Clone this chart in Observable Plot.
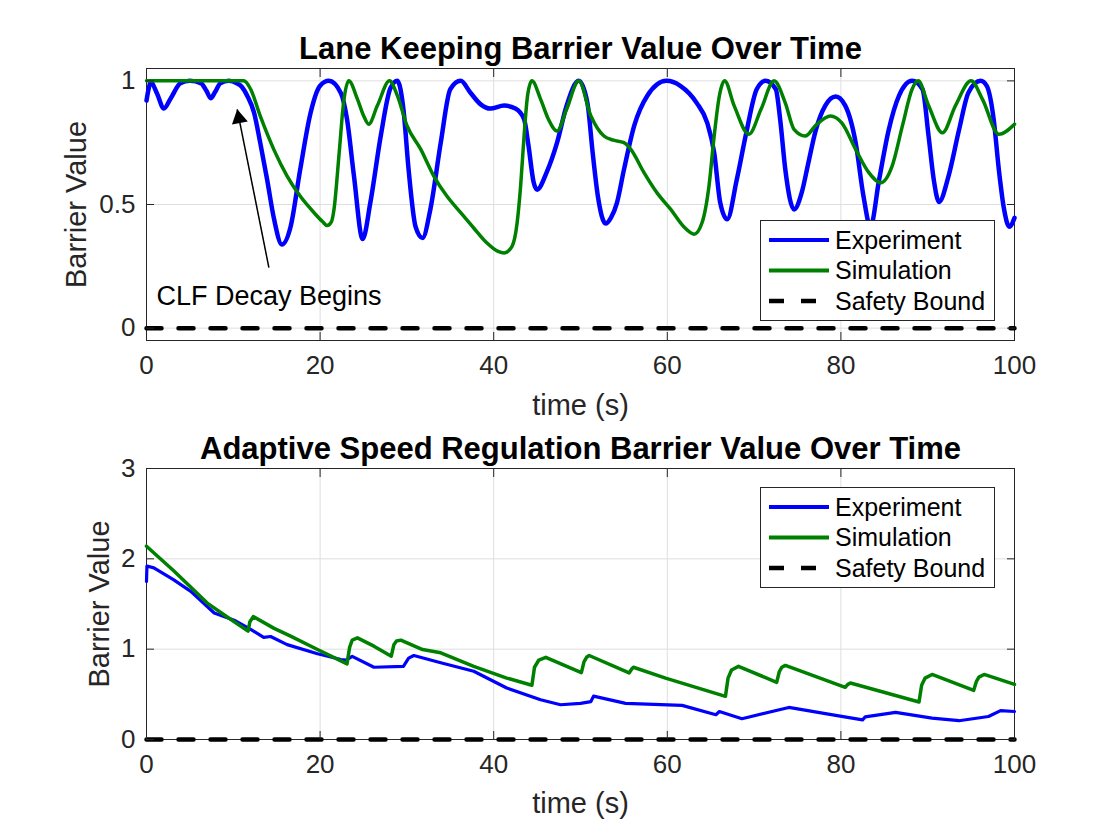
<!DOCTYPE html>
<html><head><meta charset="utf-8">
<script src="https://cdn.jsdelivr.net/npm/d3@7"></script>
<script src="https://cdn.jsdelivr.net/npm/@observablehq/plot@0.6"></script>
<style>
body{margin:0;background:#fff;}
#wrap{position:relative;width:1120px;height:840px;font-family:"Liberation Sans",Arial,Helvetica,sans-serif;}
#wrap svg.plot{position:absolute;left:0;}
.legend{position:absolute;background:#fff;border:1px solid #262626;box-sizing:border-box;}
</style></head><body><div id="wrap"></div>
<script>
// ---------- data ----------
const xTicks = [0, 20, 40, 60, 80, 100];
const laneYTicks = [0, 0.5, 1];
const speedYTicks = [0, 1, 2, 3];
const seriesNames = ["Experiment", "Simulation", "Safety Bound"];

// Lane keeping - experiment
const laneExpT = [0,0.2,0.5,1.2,2.0,2.8,3.9,5.0,6.3,6.9,7.4,7.9,8.5,9.5,10.4,11.0,11.6,12.4,13.1,13.9,14.7,15.6,16.6,17.7,18.9,20.0,21.0,22.4,23.1,23.9,24.9,25.8,27.0,28.1,28.9,29.6,30.2,31.0,31.8,32.7,33.9,35.0,36.2,37.3,38.5,39.6,41.2,42.5,43.5,44.0,44.6,45.0,46.1,47.3,48.4,49.8,50.8,51.4,52.0,52.9,53.5,54.2,55.0,56.2,57.7,59.9,61.5,63.4,64.6,65.4,66.1,66.9,68.0,69.1,70.3,71.3,72.5,73.0,73.6,74.6,75.5,76.2,77.1,78.2,79.4,80.5,81.7,82.6,83.4,84.4,85.5,86.7,88.2,89.4,90.1,90.7,91.3,92.4,93.6,94.7,96.1,96.8,97.6,98.2,98.8,99.4,100];
const laneExpV = [0.92,0.96,0.995,0.95,0.888,0.93,0.99,1.0,0.99,0.96,0.93,0.955,0.99,1.0,0.99,0.975,0.94,0.87,0.75,0.60,0.44,0.338,0.41,0.64,0.87,0.98,1.0,0.95,0.845,0.615,0.36,0.51,0.78,0.97,1.0,0.885,0.64,0.41,0.365,0.48,0.75,0.966,1.0,0.953,0.905,0.888,0.90,0.888,0.845,0.74,0.59,0.56,0.63,0.75,0.90,1.0,0.91,0.71,0.534,0.423,0.446,0.507,0.64,0.82,0.94,1.0,0.98,0.91,0.83,0.71,0.507,0.44,0.60,0.79,0.966,1.0,0.966,0.845,0.64,0.48,0.55,0.66,0.80,0.90,0.937,0.90,0.75,0.534,0.41,0.60,0.80,0.94,1.0,0.966,0.777,0.60,0.51,0.615,0.80,0.953,1.0,0.98,0.845,0.64,0.48,0.41,0.446];

// Lane keeping - simulation
const laneSimT = [0,5,11.2,12.0,13.1,14.7,16.2,17.7,19.3,20.3,20.8,21.3,21.6,22.2,22.7,23.3,24.3,25.0,25.6,26.6,28.0,28.9,30.0,31.6,33.1,34.6,36.2,37.7,39.2,40.5,41.2,42.1,42.7,43.1,43.5,43.9,44.4,45.4,46.3,47.3,48.4,49.8,51.2,52.7,53.8,55.0,55.8,57.3,58.8,60.4,61.9,63.1,64.0,64.8,65.4,66.0,66.6,67.7,69.4,70.8,72.3,73.6,74.6,75.9,77.1,78.8,80.1,81.7,83.2,84.6,85.9,87.1,88.2,88.9,90.1,91.7,93.2,95.0,96.3,98.2,100];
const laneSimV = [1,1,1,0.966,0.858,0.72,0.615,0.534,0.467,0.43,0.415,0.43,0.48,0.71,0.91,1.0,0.926,0.86,0.825,0.90,1.0,0.94,0.82,0.723,0.615,0.534,0.467,0.405,0.345,0.31,0.304,0.33,0.426,0.574,0.777,0.94,1.0,0.926,0.845,0.797,0.885,1.0,0.858,0.777,0.76,0.75,0.723,0.63,0.548,0.48,0.41,0.38,0.426,0.574,0.777,0.94,1.0,0.90,0.784,0.885,1.0,0.91,0.804,0.777,0.82,0.858,0.83,0.723,0.63,0.588,0.655,0.82,0.966,1.0,0.90,0.79,0.90,1.0,0.926,0.784,0.825];

// Speed regulation - experiment
const speedExpT = [0,0.05,0.85,3.1,5.1,7.8,10.1,12.0,13.5,14.3,16.2,19.7,22.4,23.0,23.7,26.2,29.6,30.2,30.8,33.9,37.7,41.5,45.4,47.7,50.0,51.2,51.5,55.2,61.7,65.6,66.0,68.6,74.0,79.4,82.5,82.8,86.3,90.5,93.6,97.0,98.4,100];
const speedExpV = [1.75,1.92,1.90,1.77,1.64,1.40,1.32,1.22,1.13,1.14,1.05,0.95,0.885,0.88,0.92,0.80,0.81,0.90,0.93,0.85,0.755,0.57,0.44,0.385,0.40,0.42,0.48,0.40,0.378,0.274,0.31,0.23,0.355,0.267,0.218,0.25,0.30,0.237,0.208,0.255,0.32,0.31];

// Speed regulation - simulation
const speedSimT = [0,3.1,7.0,9.3,11.7,11.9,12.3,14.7,16.6,19.7,23.1,23.4,23.7,24.3,26.2,28.2,28.5,28.8,29.3,31.8,33.9,37.7,41.5,44.4,44.7,45.2,46.0,50.1,50.4,50.7,51.0,55.6,55.9,56.1,59.8,66.7,67.0,67.4,68.2,72.6,72.9,73.2,73.6,80.5,80.8,81.1,89.0,89.3,89.7,90.5,95.3,95.6,95.9,96.5,100];
const speedSimV = [2.14,1.87,1.51,1.356,1.20,1.30,1.36,1.23,1.144,0.996,0.837,1.02,1.10,1.125,1.033,0.922,1.05,1.09,1.10,0.996,0.96,0.81,0.68,0.60,0.80,0.88,0.91,0.74,0.86,0.91,0.93,0.737,0.78,0.80,0.68,0.478,0.68,0.77,0.81,0.633,0.75,0.80,0.82,0.578,0.61,0.626,0.415,0.60,0.68,0.72,0.544,0.64,0.69,0.72,0.61];

// Safety bound
const safetyT = [0, 100];
const safetyV = [0, 0];

// Annotation (top panel)
const annotText = ["CLF Decay Begins"];
const annotTextX = [1.15];
const annotTextY = [0.095];
const arrowFrom = [14.1, 0.245];
const arrowTo = [10.45, 0.885];

// ---------- build ----------
const FONT = '"Liberation Sans", Arial, Helvetica, sans-serif';
const AX = "#262626";
const BLUE = "#0000ff", GREEN = "#008000";
const toRows = (T, V) => T.map((t, i) => ({t, v: V[i]}));

function panel(o) {
  const marks = [
    Plot.gridX(xTicks, {stroke: "#dedede", strokeOpacity: 1}),
    Plot.gridY(o.yTicks, {stroke: "#dedede", strokeOpacity: 1}),
    Plot.frame({stroke: AX, strokeWidth: 1}),
    Plot.line(toRows(o.expT, o.expV), {x: "t", y: "v", stroke: BLUE, strokeWidth: o.expW, curve: o.curve}),
    Plot.line(toRows(o.simT, o.simV), {x: "t", y: "v", stroke: GREEN, strokeWidth: 3.5, curve: o.curve}),
    Plot.line(toRows(safetyT, safetyV), {x: "t", y: "v", stroke: "#000", strokeWidth: 4.5, strokeDasharray: "15,17"}),
    Plot.axisX({ticks: xTicks, tickSize: -8, tickPadding: 23, color: AX, fontSize: 26, label: null}),
    Plot.axisX({anchor: "top", ticks: xTicks, tickSize: -8, tickFormat: () => "", color: AX, label: null}),
    Plot.axisY({ticks: o.yTicks, tickSize: -8, tickPadding: 19, tickFormat: d => String(d), color: AX, fontSize: 26, label: null}),
    Plot.axisY({anchor: "right", ticks: o.yTicks, tickSize: -8, tickFormat: () => "", color: AX, label: null}),
    Plot.text([o.title], {frameAnchor: "top", dy: -10, lineAnchor: "bottom", textAnchor: "middle", fontWeight: "bold", fontSize: 31, fill: "#000"}),
    Plot.text(["Barrier Value"], {frameAnchor: "left", rotate: -90, dx: o.ylabDx, textAnchor: "middle", lineAnchor: "bottom", fontSize: 29, fill: AX}),
    Plot.text(["time (s)"], {frameAnchor: "bottom", dy: o.xlabDy, lineAnchor: "bottom", textAnchor: "middle", fontSize: 29, fill: AX}),
    ...(o.extra || [])
  ];
  const svg = Plot.plot({
    width: 1120, height: 420,
    marginLeft: 146, marginRight: 106, marginTop: o.mt, marginBottom: o.mb,
    x: {domain: [0, 100]},
    y: {domain: o.yDomain},
    style: {fontFamily: FONT, fontSize: "26px", background: "transparent", overflow: "visible"},
    marks
  });
  svg.style.top = o.top + "px";
  return svg;
}

const arrowData = [{x1: arrowFrom[0], y1: arrowFrom[1], x2: arrowTo[0], y2: arrowTo[1]}];
const topExtra = [
  Plot.link(arrowData, {x1: "x1", y1: "y1", x2: "x2", y2: "y2", stroke: "#000", strokeWidth: 1.5}),
  Plot.dot(arrowData, {x: "x2", y: "y2", symbol: "triangle", r: 6, rotate: -11, fill: "#000", stroke: null, dx: 1.8, dy: 9.1}),
  Plot.text(annotText, {x: annotTextX, y: annotTextY, text: d => d, textAnchor: "start", lineAnchor: "bottom", fontSize: 27, fill: "#000"})
];

const wrap = document.getElementById("wrap");
wrap.appendChild(panel({
  top: 0, mt: 68, mb: 80, yDomain: [-0.05, 1.05], yTicks: laneYTicks,
  expT: laneExpT, expV: laneExpV, simT: laneSimT, simV: laneSimV, expW: 4.5, curve: "monotone-x",
  title: "Lane Keeping Barrier Value Over Time", ylabDx: -61, xlabDy: 74, extra: topExtra
}));
wrap.appendChild(panel({
  top: 420, mt: 48, mb: 101, yDomain: [0, 3], yTicks: speedYTicks,
  expT: speedExpT, expV: speedExpV, simT: speedSimT, simV: speedSimV, expW: 3.2, curve: "linear",
  title: "Adaptive Speed Regulation Barrier Value Over Time", ylabDx: -38, xlabDy: 73
}));

function legend(top) {
  const d = document.createElement("div");
  d.className = "legend";
  Object.assign(d.style, {left: "760px", top: top + "px", width: "235px", height: "101px"});
  const styles = [
    {stroke: BLUE, w: 4.2, dash: null},
    {stroke: GREEN, w: 4, dash: null},
    {stroke: "#000", w: 4.5, dash: "15,17"}
  ];
  let s = `<svg width="233" height="99" style="display:block">`;
  seriesNames.forEach((name, i) => {
    const y = 19 + i * 30.5;
    const st = styles[i];
    s += `<line x1="8" x2="68" y1="${y}" y2="${y}" stroke="${st.stroke}" stroke-width="${st.w}"${st.dash ? ` stroke-dasharray="${st.dash}"` : ""}/>`;
    s += `<text x="74" y="${y}" dy="0.35em" font-size="25" fill="#000" font-family='${FONT}'>${name}</text>`;
  });
  s += `</svg>`;
  d.innerHTML = s;
  wrap.appendChild(d);
}
legend(220);
legend(487);
</script></body></html>
